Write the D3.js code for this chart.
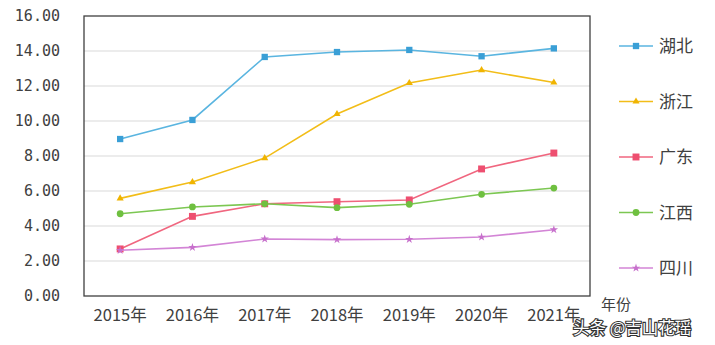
<!DOCTYPE html>
<html><head><meta charset="utf-8">
<script src="https://cdn.jsdelivr.net/npm/d3@7"></script>
<style>
body{margin:0;background:#fff;}
svg{display:block;}
</style></head>
<body>
<svg id="c" width="715" height="345" font-family="'Noto Sans CJK SC','DejaVu Sans',sans-serif"></svg>
<script>
const years = ["2015年","2016年","2017年","2018年","2019年","2020年","2021年"];
const yTicks = [0,2,4,6,8,10,12,14,16];
const hubei   = [8.97,10.06,13.66,13.94,14.06,13.70,14.15];
const zhejiang= [5.58,6.51,7.88,10.40,12.17,12.91,12.20];
const guangdong=[2.69,4.55,5.27,5.39,5.49,7.26,8.17];
const jiangxi = [4.70,5.09,5.27,5.05,5.24,5.81,6.17];
const sichuan = [2.61,2.78,3.26,3.22,3.24,3.37,3.79];
const seriesNames = ["湖北","浙江","广东","江西","四川"];

const series = [
  {name:seriesNames[0], values:hubei, line:"#5ab5e0", mark:"#3a9fd6", sym:d3.symbolSquare, size:40},
  {name:seriesNames[1], values:zhejiang, line:"#f2bd18", mark:"#f0b400", sym:d3.symbolTriangle, size:22},
  {name:seriesNames[2], values:guangdong, line:"#f0667f", mark:"#ee4f70", sym:d3.symbolSquare, size:48},
  {name:seriesNames[3], values:jiangxi, line:"#7cc752", mark:"#6fc040", sym:d3.symbolCircle, size:36},
  {name:seriesNames[4], values:sichuan, line:"#d385d6", mark:"#c770cc", sym:d3.symbolStar, size:22}
];

const svg = d3.select("#c");
const L=84, T=16, R=590, B=296;
const x = d3.scaleBand().domain(years).range([L,R]).padding(0);
const cx = d => x(d)+x.bandwidth()/2;
const y = d3.scaleLinear().domain([0,16]).range([B,T]);

// gridlines
svg.append("g").selectAll("line").data(yTicks.filter(t=>t>0&&t<16)).join("line")
  .attr("x1",L).attr("x2",R).attr("y1",d=>y(d)).attr("y2",d=>y(d))
  .attr("stroke","#d9d9d9").attr("stroke-width",1);

// frame
svg.append("rect").attr("x",L).attr("y",T).attr("width",R-L).attr("height",B-T)
  .attr("fill","none").attr("stroke","#404040").attr("stroke-width",1.3);

// y axis
const ya = svg.append("g").attr("transform",`translate(${L},0)`)
  .call(d3.axisLeft(y).tickValues(yTicks).tickSize(0).tickPadding(24).tickFormat(d3.format(".2f")));
ya.select(".domain").remove();
ya.attr("font-family",null);
ya.selectAll("text").style("font-family","'DejaVu Sans Mono',monospace").style("font-size","15px").attr("fill","#404040");

// x axis
const xa = svg.append("g").attr("transform",`translate(0,${B})`)
  .call(d3.axisBottom(x).tickSize(0).tickPadding(13));
xa.select(".domain").remove();
xa.attr("font-family",null);
xa.selectAll("text").style("font-size","16.5px").attr("fill","#404040");

// axis title
svg.append("text").attr("x",616).attr("y",310).attr("text-anchor","middle")
  .attr("font-size",15).attr("fill","#404040").text("年份");

// lines
const line = d3.line().x((d,i)=>cx(years[i])).y(d=>y(d));
series.forEach(s=>{
  const g = svg.append("g");
  g.append("path").datum(s.values).attr("d",line).attr("fill","none")
    .attr("stroke",s.line).attr("stroke-width",1.6);
  g.selectAll("path.m").data(s.values).join("path").attr("class","m")
    .attr("transform",(d,i)=>`translate(${cx(years[i])},${y(d)})`)
    .attr("d",d3.symbol().type(s.sym).size(s.size)).attr("fill",s.mark);
});

// legend
const lg = svg.append("g");
series.forEach((s,i)=>{
  const yy = 46 + i*55.5;
  lg.append("line").attr("x1",619).attr("x2",653).attr("y1",yy).attr("y2",yy)
    .attr("stroke",s.line).attr("stroke-width",1.6);
  lg.append("path").attr("transform",`translate(636,${yy})`)
    .attr("d",d3.symbol().type(s.sym).size(s.size)).attr("fill",s.mark);
  lg.append("text").attr("x",659).attr("y",yy).attr("dy","0.36em")
    .attr("font-size",17).attr("fill","#404040").text(s.name);
});

// watermark
svg.append("text").attr("x",573).attr("y",334).attr("font-size",16.5)
  .attr("fill","#ffffff").attr("stroke","#333").attr("stroke-width",2.2)
  .attr("paint-order","stroke").text("头条 @吉山花瑶");
</script>
</body></html>
